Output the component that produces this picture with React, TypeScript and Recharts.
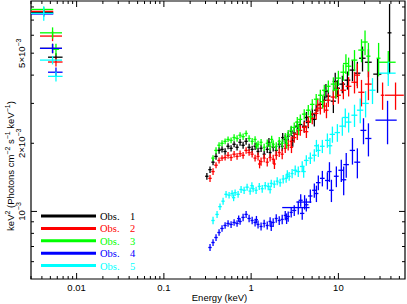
import React from "react";
import { ScatterChart, Scatter, XAxis, YAxis, ErrorBar, ReferenceArea } from "recharts";

// [energy keV, flux in 1e-3 units, x half-error, y half-error]
type Pt = [number, number, number, number];

const obs1: Pt[] = [
  [0.0042, 7.55, 0.0012, 0.2], [0.0053, 5.25, 0.0015, 0.25], [0.0058, 4.8, 0.0011, 0.2],
  [0.311, 1.43, 0.014, 0.05], [0.338, 1.53, 0.015, 0.05], [0.366, 1.65, 0.016, 0.05],
  [0.396, 1.75, 0.018, 0.06], [0.429, 1.86, 0.019, 0.06], [0.464, 1.88, 0.021, 0.06],
  [0.503, 1.84, 0.022, 0.06], [0.544, 1.94, 0.024, 0.06], [0.589, 1.9, 0.026, 0.06],
  [0.638, 1.98, 0.028, 0.06], [0.69, 1.92, 0.03, 0.06], [0.747, 2.02, 0.033, 0.07],
  [0.809, 1.96, 0.036, 0.07], [0.876, 2.04, 0.039, 0.07], [0.948, 1.92, 0.042, 0.07],
  [1.027, 1.88, 0.042, 0.07], [1.11, 1.94, 0.045, 0.07], [1.2, 1.84, 0.048, 0.07],
  [1.3, 1.9, 0.052, 0.07], [1.41, 1.79, 0.056, 0.07], [1.53, 1.88, 0.061, 0.07],
  [1.6, 2.02, 0.06, 0.09], [1.65, 1.82, 0.066, 0.08], [1.79, 1.92, 0.072, 0.08],
  [1.94, 1.86, 0.078, 0.08], [2.1, 1.98, 0.084, 0.09], [2.27, 1.94, 0.091, 0.09],
  [2.3, 2.12, 0.09, 0.1], [2.46, 2.08, 0.1, 0.1], [2.66, 2.15, 0.11, 0.1],
  [2.88, 2.26, 0.12, 0.11], [3.0, 2.05, 0.14, 0.12], [3.12, 2.22, 0.17, 0.12],
  [3.38, 2.38, 0.19, 0.13], [3.66, 2.42, 0.2, 0.13], [4.06, 2.38, 0.24, 0.14],
  [4.3, 2.6, 0.22, 0.15], [4.52, 2.48, 0.27, 0.15], [5.02, 2.69, 0.3, 0.16],
  [5.3, 2.55, 0.3, 0.18], [5.57, 2.8, 0.33, 0.17], [6.21, 2.97, 0.37, 0.19],
  [6.9, 3.1, 0.41, 0.2], [7.2, 3.4, 0.4, 0.25], [7.67, 3.23, 0.46, 0.22],
  [8.76, 3.07, 0.6, 0.35], [9.2, 3.75, 0.6, 0.35], [9.74, 3.5, 0.7, 0.3],
  [11.1, 3.65, 0.85, 0.32], [12.7, 3.8, 1.0, 0.35], [14.5, 4.21, 1.1, 0.45],
  [16.5, 4.08, 1.4, 0.5], [18.9, 4.75, 1.6, 0.6], [22.1, 4.56, 2.0, 0.65],
  [28.1, 4.04, 3.0, 0.7], [38.6, 6.15, 2.0, 2.1],
];

const obs2: Pt[] = [
  [0.0042, 7.65, 0.0012, 0.2], [0.0053, 5.95, 0.0015, 0.3], [0.0058, 4.57, 0.0011, 0.2],
  [0.338, 1.4, 0.015, 0.05], [0.366, 1.5, 0.016, 0.05], [0.396, 1.6, 0.018, 0.05],
  [0.429, 1.68, 0.019, 0.05], [0.464, 1.72, 0.021, 0.05], [0.503, 1.73, 0.022, 0.05],
  [0.544, 1.77, 0.024, 0.06], [0.589, 1.73, 0.026, 0.06], [0.638, 1.79, 0.028, 0.06],
  [0.69, 1.75, 0.03, 0.06], [0.747, 1.8, 0.033, 0.06], [0.809, 1.77, 0.036, 0.06],
  [0.876, 1.86, 0.039, 0.06], [0.948, 1.82, 0.042, 0.06], [1.027, 1.79, 0.042, 0.06],
  [1.11, 1.72, 0.045, 0.06], [1.2, 1.75, 0.048, 0.07], [1.25, 1.62, 0.05, 0.07],
  [1.3, 1.66, 0.052, 0.07], [1.41, 1.72, 0.056, 0.07], [1.53, 1.65, 0.061, 0.07],
  [1.65, 1.73, 0.066, 0.07], [1.79, 1.7, 0.072, 0.08], [1.85, 1.62, 0.07, 0.08],
  [1.94, 1.77, 0.078, 0.08], [2.1, 1.82, 0.084, 0.08], [2.27, 1.79, 0.091, 0.09],
  [2.46, 1.9, 0.1, 0.09], [2.66, 1.96, 0.11, 0.1], [2.88, 2.04, 0.12, 0.1],
  [2.9, 1.92, 0.13, 0.11], [3.12, 2.12, 0.17, 0.11], [3.38, 2.19, 0.19, 0.12],
  [3.66, 2.28, 0.2, 0.12], [4.06, 2.35, 0.24, 0.13], [4.3, 2.25, 0.22, 0.14],
  [4.52, 2.5, 0.27, 0.14], [5.02, 2.58, 0.3, 0.15], [5.57, 2.71, 0.33, 0.16],
  [5.8, 2.95, 0.3, 0.2], [6.21, 2.86, 0.37, 0.18], [6.9, 2.92, 0.41, 0.19],
  [7.3, 2.8, 0.4, 0.22], [7.67, 3.1, 0.46, 0.21], [8.76, 3.2, 0.6, 0.25],
  [9.3, 3.45, 0.6, 0.3], [10.0, 3.26, 0.7, 0.27], [11.4, 3.43, 0.85, 0.3],
  [13.1, 3.57, 1.0, 0.35], [15.3, 3.72, 1.2, 0.4], [16.5, 4.0, 1.2, 0.5],
  [18.4, 3.36, 1.5, 0.45], [22.1, 3.65, 2.0, 0.55], [32.1, 3.26, 1.5, 0.45],
  [45.2, 3.26, 11, 0.45],
];

const obs3: Pt[] = [
  [0.0042, 7.8, 0.0012, 0.2], [0.0053, 6.15, 0.0015, 0.35], [0.0058, 5.2, 0.0005, 0.3],
  [0.366, 1.72, 0.016, 0.05], [0.396, 1.86, 0.018, 0.06], [0.429, 1.96, 0.019, 0.06],
  [0.464, 2.0, 0.021, 0.06], [0.503, 2.04, 0.022, 0.06], [0.544, 2.08, 0.024, 0.06],
  [0.589, 2.06, 0.026, 0.06], [0.638, 2.12, 0.028, 0.07], [0.69, 2.1, 0.03, 0.07],
  [0.747, 2.17, 0.033, 0.07], [0.809, 2.14, 0.036, 0.07], [0.876, 2.21, 0.039, 0.07],
  [0.948, 2.1, 0.042, 0.07], [1.027, 2.04, 0.042, 0.07], [1.11, 2.08, 0.045, 0.07],
  [1.15, 1.95, 0.05, 0.07], [1.2, 1.98, 0.048, 0.07], [1.3, 2.02, 0.052, 0.07],
  [1.41, 1.92, 0.056, 0.07], [1.53, 2.0, 0.061, 0.08], [1.65, 1.94, 0.066, 0.08],
  [1.72, 2.08, 0.07, 0.08], [1.79, 1.98, 0.072, 0.08], [1.94, 1.94, 0.078, 0.08],
  [2.1, 2.04, 0.084, 0.09], [2.27, 2.0, 0.091, 0.09], [2.46, 2.12, 0.1, 0.1],
  [2.55, 2.0, 0.1, 0.1], [2.66, 2.19, 0.11, 0.1], [2.88, 2.28, 0.12, 0.11],
  [3.12, 2.35, 0.17, 0.12], [3.38, 2.48, 0.19, 0.13], [3.5, 2.3, 0.18, 0.13],
  [3.66, 2.55, 0.2, 0.13], [4.06, 2.69, 0.24, 0.14], [4.52, 2.8, 0.27, 0.15],
  [4.8, 2.62, 0.27, 0.16], [5.02, 2.97, 0.3, 0.16], [5.57, 3.13, 0.33, 0.17],
  [6.21, 3.26, 0.37, 0.19], [6.6, 3.05, 0.38, 0.2], [6.9, 3.43, 0.41, 0.2],
  [7.67, 3.57, 0.46, 0.22], [8.76, 3.65, 0.6, 0.26], [9.4, 3.45, 0.6, 0.3],
  [10.0, 3.88, 0.7, 0.3], [11.4, 4.12, 0.85, 0.34], [12.2, 4.5, 0.9, 0.45],
  [13.1, 4.38, 1.0, 0.4], [15.3, 4.66, 1.2, 0.5], [18.4, 5.16, 1.5, 0.6],
  [20.2, 5.6, 1.5, 0.7], [22.1, 4.85, 1.2, 0.7], [28.9, 4.75, 1.5, 0.8],
  [37.3, 4.56, 8, 0.55],
];

const obs4: Pt[] = [
  [0.0042, 7.45, 0.0012, 0.2], [0.0053, 5.25, 0.0015, 0.25], [0.0058, 4.12, 0.0011, 0.2],
  [0.338, 0.693, 0.015, 0.025], [0.366, 0.729, 0.016, 0.025], [0.396, 0.767, 0.018, 0.026],
  [0.429, 0.807, 0.019, 0.027], [0.464, 0.841, 0.021, 0.028], [0.503, 0.867, 0.022, 0.029],
  [0.544, 0.885, 0.024, 0.03], [0.589, 0.876, 0.026, 0.03], [0.638, 0.894, 0.028, 0.03],
  [0.69, 0.885, 0.03, 0.03], [0.72, 0.93, 0.03, 0.03], [0.747, 0.903, 0.033, 0.03],
  [0.809, 0.941, 0.036, 0.035], [0.876, 0.97, 0.039, 0.035], [0.948, 0.931, 0.042, 0.035],
  [1.027, 0.912, 0.042, 0.035], [1.11, 0.894, 0.045, 0.035], [1.15, 0.92, 0.045, 0.035],
  [1.2, 0.876, 0.048, 0.035], [1.3, 0.858, 0.052, 0.035], [1.41, 0.885, 0.056, 0.035],
  [1.53, 0.867, 0.061, 0.035], [1.65, 0.903, 0.066, 0.04], [1.7, 0.86, 0.07, 0.04],
  [1.79, 0.894, 0.072, 0.04], [1.94, 0.931, 0.078, 0.04], [2.1, 0.912, 0.084, 0.04],
  [2.27, 0.922, 0.091, 0.045], [2.46, 0.96, 0.1, 0.045], [2.55, 0.93, 0.1, 0.05],
  [2.66, 0.95, 0.11, 0.05], [2.88, 0.99, 0.12, 0.05], [3.12, 1.01, 0.17, 0.055],
  [3.47, 1.04, 1.2, 0.07], [3.7, 1.12, 0.2, 0.07], [3.85, 0.98, 0.22, 0.06],
  [4.1, 1.1, 0.8, 0.08], [4.29, 1.07, 0.25, 0.07], [4.77, 1.17, 0.28, 0.08],
  [5.3, 1.24, 0.3, 0.09], [5.6, 1.2, 0.3, 0.1], [5.89, 1.34, 0.35, 0.1],
  [6.55, 1.4, 0.4, 0.11], [7.48, 1.37, 0.45, 0.12], [7.9, 1.5, 0.45, 0.15],
  [8.32, 1.24, 0.5, 0.14], [9.48, 1.43, 0.6, 0.15], [10.8, 1.52, 0.8, 0.17],
  [11.5, 1.38, 0.8, 0.2], [12.3, 1.61, 0.9, 0.2], [14.5, 1.86, 1.0, 0.25],
  [16.5, 1.65, 1.3, 0.25], [19.4, 2.28, 1.5, 0.3], [22.1, 2.1, 1.8, 0.35],
  [36.6, 2.53, 10, 0.55],
];

const obs5: Pt[] = [
  [0.0042, 7.5, 0.0012, 0.55], [0.0053, 4.66, 0.0015, 0.2], [0.0058, 3.95, 0.0011, 0.2],
  [0.366, 0.912, 0.016, 0.035], [0.407, 0.97, 0.018, 0.035], [0.44, 1.05, 0.02, 0.035],
  [0.477, 1.11, 0.021, 0.04], [0.516, 1.19, 0.023, 0.04], [0.559, 1.18, 0.025, 0.04],
  [0.605, 1.2, 0.027, 0.04], [0.63, 1.15, 0.028, 0.04], [0.655, 1.21, 0.029, 0.04],
  [0.709, 1.19, 0.032, 0.04], [0.767, 1.25, 0.034, 0.045], [0.831, 1.24, 0.037, 0.045],
  [0.899, 1.28, 0.04, 0.045], [0.974, 1.23, 0.04, 0.045], [1.02, 1.3, 0.04, 0.045],
  [1.054, 1.26, 0.042, 0.045], [1.14, 1.24, 0.046, 0.045], [1.24, 1.29, 0.05, 0.045],
  [1.34, 1.26, 0.054, 0.05], [1.45, 1.3, 0.058, 0.05], [1.57, 1.29, 0.063, 0.05],
  [1.65, 1.25, 0.065, 0.05], [1.7, 1.33, 0.068, 0.05], [1.84, 1.32, 0.074, 0.05],
  [1.99, 1.36, 0.08, 0.055], [2.15, 1.34, 0.086, 0.055], [2.33, 1.39, 0.093, 0.06],
  [2.52, 1.4, 0.1, 0.06], [2.6, 1.46, 0.1, 0.06], [2.73, 1.43, 0.11, 0.065],
  [2.95, 1.47, 0.12, 0.07], [3.2, 1.52, 0.18, 0.075], [3.47, 1.5, 0.2, 0.08],
  [3.85, 1.58, 0.23, 0.085], [4.0, 1.5, 0.23, 0.09], [4.29, 1.68, 0.26, 0.09],
  [4.77, 1.72, 0.29, 0.1], [5.3, 1.77, 0.32, 0.11], [5.6, 1.95, 0.33, 0.12],
  [5.89, 1.86, 0.36, 0.12], [6.55, 1.94, 0.4, 0.13], [7.48, 2.06, 0.45, 0.15],
  [8.0, 1.95, 0.5, 0.16], [8.54, 2.19, 0.6, 0.18], [9.74, 2.23, 0.7, 0.2],
  [11.1, 2.38, 0.85, 0.22], [12.0, 2.6, 0.9, 0.25], [13.1, 2.48, 1.0, 0.25],
  [15.3, 2.66, 1.2, 0.3], [17.8, 2.8, 1.5, 0.35], [20.5, 3.0, 1.8, 0.4],
  [24.6, 3.43, 2.0, 0.45], [37.3, 4.08, 8, 0.5],
];

const seriesNames = ["1", "2", "3", "4", "5"];
const seriesColors = ["#000000", "#ff0000", "#00ff00", "#0000ff", "#00ffff"];
const seriesData = [obs1, obs2, obs3, obs4, obs5];

const xTicks = [
  0.003, 0.004, 0.005, 0.006, 0.007, 0.008, 0.009,
  0.01, 0.02, 0.03, 0.04, 0.05, 0.06, 0.07, 0.08, 0.09,
  0.1, 0.2, 0.3, 0.4, 0.5, 0.6, 0.7, 0.8, 0.9,
  1, 2, 3, 4, 5, 6, 7, 8, 9,
  10, 20, 30, 40, 50,
];
const xMajor = [0.01, 0.1, 1, 10];
const yTicks = [0.6, 0.7, 0.8, 0.9, 1, 2, 3, 4, 5, 6, 7, 8];
const yLabelled = [1, 2, 5];

const X_DOMAIN: [number, number] = [0.003, 58];
const Y_DOMAIN: [number, number] = [0.503, 8.5];

const PLOT_TOP = 1;
const PLOT_BOTTOM = 279;
const PLOT_LEFT = 31;
const PLOT_RIGHT = 405;

const SANS = "'Liberation Sans', Arial, Helvetica, sans-serif";
const SERIF = "'Liberation Serif', 'Times New Roman', serif";

const near = (a: number, list: number[]) => list.some((v) => Math.abs(v - a) < 1e-9);

function XTick(props: any) {
  const { x, payload } = props;
  const v = payload.value;
  const major = near(v, xMajor);
  const len = major ? 6 : 3;
  return (
    <g>
      <line x1={x} x2={x} y1={PLOT_BOTTOM} y2={PLOT_BOTTOM - len} stroke="#000" strokeWidth={1} />
      <line x1={x} x2={x} y1={PLOT_TOP} y2={PLOT_TOP + len} stroke="#000" strokeWidth={1} />
      {major && (
        <text x={x} y={PLOT_BOTTOM + 11.5} textAnchor="middle" fontSize={9.5} fontFamily={SANS} fill="#000">
          {String(v)}
        </text>
      )}
    </g>
  );
}

function YTick(props: any) {
  const { y, payload } = props;
  const v = payload.value;
  const major = near(v, [1]);
  const len = major ? 6 : 3;
  const lab = near(v, yLabelled);
  return (
    <g>
      <line x1={PLOT_LEFT} x2={PLOT_LEFT + len} y1={y} y2={y} stroke="#000" strokeWidth={1} />
      <line x1={PLOT_RIGHT} x2={PLOT_RIGHT - len} y1={y} y2={y} stroke="#000" strokeWidth={1} />
      {lab && (
        <text
          x={25}
          y={y}
          transform={`rotate(-90 25 ${y})`}
          textAnchor="middle"
          fontSize={9.5}
          fontFamily={SANS}
          fill="#000"
        >
          {v === 1 ? "10" : `${v}\u00d710`}
          <tspan dy={-3.5} fontSize={7}>{"\u22123"}</tspan>
        </text>
      )}
    </g>
  );
}

const noShape = () => <g />;

export default function App() {
  return (
    <div style={{ position: "absolute", left: 0, top: 0, width: 407, height: 304, background: "#fff" }}>
      <ScatterChart width={407} height={304} margin={{ top: PLOT_TOP, right: 407 - PLOT_RIGHT, bottom: 0, left: 0 }}>
        <XAxis
          type="number"
          dataKey="x"
          scale="log"
          domain={X_DOMAIN}
          allowDataOverflow
          ticks={xTicks}
          interval={0}
          height={304 - PLOT_BOTTOM}
          axisLine={false}
          tickLine={false}
          tick={(p: any) => <XTick {...p} />}
        />
        <YAxis
          type="number"
          dataKey="y"
          scale="log"
          domain={Y_DOMAIN}
          allowDataOverflow
          ticks={yTicks}
          interval={0}
          width={PLOT_LEFT}
          axisLine={false}
          tickLine={false}
          tick={(p: any) => <YTick {...p} />}
        />
        <ReferenceArea
          x1={X_DOMAIN[0]}
          x2={X_DOMAIN[1]}
          y1={Y_DOMAIN[0]}
          y2={Y_DOMAIN[1]}
          fill="none"
          stroke="#000"
          strokeWidth={1.2}
          ifOverflow="visible"
        />
        {seriesData.map((pts, i) => (
          <Scatter
            key={i}
            name={`Obs. ${seriesNames[i]}`}
            data={pts.map(([x, y, ex, ey]) => ({ x, y, ex, ey }))}
            fill={seriesColors[i]}
            shape={noShape}
            isAnimationActive={false}
          >
            <ErrorBar dataKey="ex" direction="x" width={0} stroke={seriesColors[i]} strokeWidth={1.3} isAnimationActive={false} />
            <ErrorBar dataKey="ey" direction="y" width={0} stroke={seriesColors[i]} strokeWidth={1.3} isAnimationActive={false} />
          </Scatter>
        ))}
      </ScatterChart>
      <svg width={407} height={304} style={{ position: "absolute", left: 0, top: 0, pointerEvents: "none" }}>
        <text x={219.5} y={301} textAnchor="middle" fontSize={9.5} fontFamily={SANS} fill="#000">
          Energy (keV)
        </text>
        <text
          x={13.5}
          y={166}
          transform="rotate(-90 13.5 166)"
          textAnchor="middle"
          fontSize={9.5}
          fontFamily={SANS}
          fill="#000"
        >
          keV<tspan dy={-3.5} fontSize={7}>2</tspan>
          <tspan dy={3.5}> (Photons cm</tspan>
          <tspan dy={-3.5} fontSize={7}>{"\u22122"}</tspan>
          <tspan dy={3.5}> s</tspan>
          <tspan dy={-3.5} fontSize={7}>{"\u22121"}</tspan>
          <tspan dy={3.5}> keV</tspan>
          <tspan dy={-3.5} fontSize={7}>{"\u22121"}</tspan>
          <tspan dy={3.5}>)</tspan>
        </text>
        {seriesNames.map((n, i) => {
          const cy = 216 + i * 12.4;
          return (
            <g key={n}>
              <line x1={41} x2={96} y1={cy} y2={cy} stroke={seriesColors[i]} strokeWidth={3} />
              <text x={100} y={cy + 4} fontSize={10.5} fontFamily={SERIF} fill={seriesColors[i]}>Obs.</text>
              <text x={130} y={cy + 4} fontSize={10.5} fontFamily={SERIF} fill={seriesColors[i]}>{n}</text>
            </g>
          );
        })}
      </svg>
    </div>
  );
}
